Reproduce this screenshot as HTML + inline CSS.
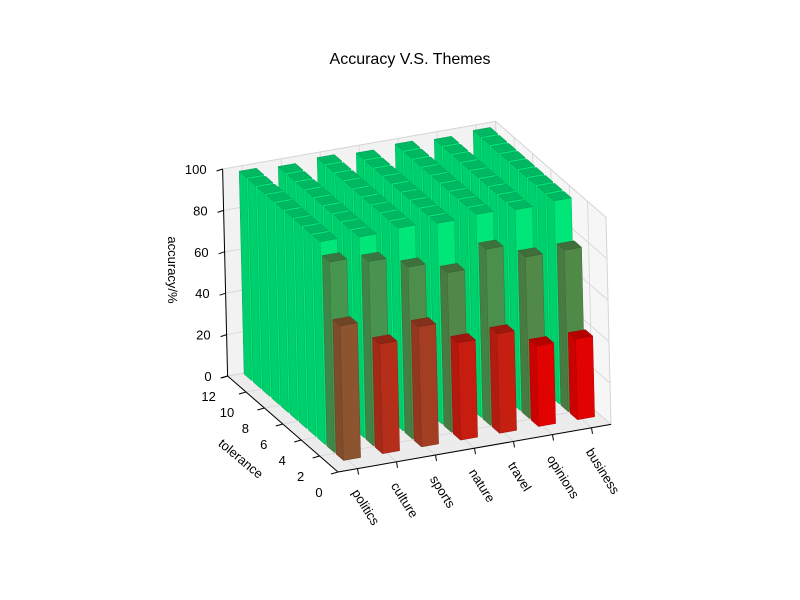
<!DOCTYPE html>
<html><head><meta charset="utf-8"><style>
body{margin:0;background:#fff}
svg{display:block;font-family:"Liberation Sans","DejaVu Sans",sans-serif}
</style></head><body>
<svg id="chart" width="800" height="600" viewBox="0 0 800 600">
<rect width="800" height="600" fill="#fff"/>
<text x="410" y="64" font-size="16" text-anchor="middle">Accuracy V.S. Themes</text>
<g id="panes"></g><g id="grid"></g><g id="bars"></g><g id="axes"></g>
<text x="0" y="0" font-size="13" text-anchor="middle" transform="translate(168 270) rotate(90)">accuracy/%</text>
<text x="0" y="0" font-size="13" text-anchor="middle" transform="translate(238 462) rotate(40)">tolerance</text>
</svg>
<script>
const themes = ["politics","culture","sports","nature","travel","opinions","business"];
const tol0 = [65,53,58,47,48,39,39];
const tol1 = [92,89,83,77,85,78,78];
const tolRest = [98,97,98,97,98,97,98];
const restCount = 9;
const zTicks = [0,20,40,60,80,100];
const yTicks = [0,2,4,6,8,10,12];

const NS="http://www.w3.org/2000/svg";
const O=[338,472], ex=[39,-6.8], ey=[-9.2,-8.0], ez=[-0.05,-2.07];
function P(x,y,z){return [O[0]+x*ex[0]+y*ey[0]+z*ez[0], O[1]+x*ex[1]+y*ey[1]+z*ez[1]];}
function pts(a){return a.map(p=>p[0].toFixed(1)+","+p[1].toFixed(1)).join(" ");}
function mk(tag,attrs,parent){const e=document.createElementNS(NS,tag);for(const k in attrs)e.setAttribute(k,attrs[k]);parent.appendChild(e);return e;}
const panes=document.getElementById('panes'),grid=document.getElementById('grid'),bars=document.getElementById('bars'),axes=document.getElementById('axes');
const X1=7,Y1=12,Z1=100;
let e;
e=mk('polygon',{points:pts([P(0,Y1,0),P(X1,Y1,0),P(X1,Y1,Z1),P(0,Y1,Z1)]),fill:'#f2f2f2',stroke:'#e0e0e0'},panes);


e=mk('polygon',{points:pts([P(X1,0,0),P(X1,Y1,0),P(X1,Y1,Z1),P(X1,0,Z1)]),fill:'#f6f6f6',stroke:'#e0e0e0'},panes);


e=mk('polygon',{points:pts([P(0,0,0),P(X1,0,0),P(X1,Y1,0),P(0,Y1,0)]),fill:'#ececec',stroke:'#e0e0e0'},panes);


function gl(a,b,name){const l=mk('line',{x1:a[0],y1:a[1],x2:b[0],y2:b[1],stroke:'#d4d4d4','stroke-width':0.8},grid);

}
zTicks.forEach(z=>{gl(P(0,Y1,z),P(X1,Y1,z),'grid-z');gl(P(X1,Y1,z),P(X1,0,z),'grid-z');});
themes.forEach((t,i)=>{gl(P(i+0.5,0,0),P(i+0.5,Y1,0),'grid-x');gl(P(i+0.5,Y1,0),P(i+0.5,Y1,Z1),'grid-x');});
yTicks.forEach(y=>{gl(P(0,y,0),P(X1,y,0),'grid-y');gl(P(X1,y,0),P(X1,y,Z1),'grid-y');});

function col(v){
  const st=[[38,[228,0,0]],[64,[145,80,45]],[76,[82,135,72]],[92,[70,150,80]],[95,[0,228,120]],[100,[0,232,122]]];
  if(v<=st[0][0])return st[0][1];
  for(let i=1;i<st.length;i++){if(v<=st[i][0]){const f=(v-st[i-1][0])/(st[i][0]-st[i-1][0]);return st[i-1][1].map((c,j)=>c+(st[i][1][j]-c)*f);}}
  return st[st.length-1][1];
}
function rgb(c,k){return 'rgb('+c.map(v=>Math.round(v*k)).join(',')+')';}
const list=[];
themes.forEach((t,i)=>{
  list.push({i,k:0,v:tol0[i]});
  list.push({i,k:1,v:tol1[i]});
  for(let k=2;k<2+restCount;k++)list.push({i,k,v:tolRest[i]});
});
list.sort((a,b)=>(b.k-a.k)||(b.i-a.i));
list.forEach(b=>{
  const x0=b.i+0.4,x1=x0+0.44,y0=b.k+1.1,y1=y0+0.8,z=b.v;
  const c=col(z);
  const g=mk('g',{},bars);
  
  
  mk('polygon',{points:pts([P(x0,y0,0),P(x0,y1,0),P(x0,y1,z),P(x0,y0,z)]),fill:rgb(c,0.9),stroke:rgb(c,0.75),'stroke-width':0.5},g);
  mk('polygon',{points:pts([P(x0,y0,0),P(x1,y0,0),P(x1,y0,z),P(x0,y0,z)]),fill:rgb(c,1),stroke:rgb(c,0.8),'stroke-width':0.5},g);
  mk('polygon',{points:pts([P(x0,y0,z),P(x1,y0,z),P(x1,y1,z),P(x0,y1,z)]),fill:rgb(c,0.8),stroke:rgb(c,0.7),'stroke-width':0.5},g);
});
function al(a,b,name){const l=mk('line',{x1:a[0],y1:a[1],x2:b[0],y2:b[1],stroke:'#000','stroke-width':1},axes);

}
al(P(0,Y1,0),P(0,Y1,Z1),'z-axis-line');
al(P(0,0,0),P(0,Y1,0),'y-axis-line');
al(P(0,0,0),P(X1,0,0),'x-axis-line');
zTicks.forEach(z=>{const p=P(0,Y1,z);al(p,[p[0]-6,p[1]+2],'z-tick');
  const t=mk('text',{x:p[0]-16,y:p[1]+5,'font-size':13,'text-anchor':'end'},axes);t.textContent=z;
  
  });
yTicks.forEach(y=>{const p=P(0,y,0);al(p,[p[0]-7,p[1]+2],'y-tick');
  const t=mk('text',{x:p[0]-19,y:p[1]+25,'font-size':13,'text-anchor':'middle'},axes);t.textContent=y;
  
  });
themes.forEach((n,i)=>{const p=P(i+0.5,0,0);al(p,[p[0]+1,p[1]+6],'x-tick');
  const t=mk('text',{x:p[0]-6,y:p[1]+24,'font-size':13,transform:'rotate(58 '+(p[0]-6)+' '+(p[1]+24)+')'},axes);t.textContent=n;
  
  });
</script>
</body></html>
